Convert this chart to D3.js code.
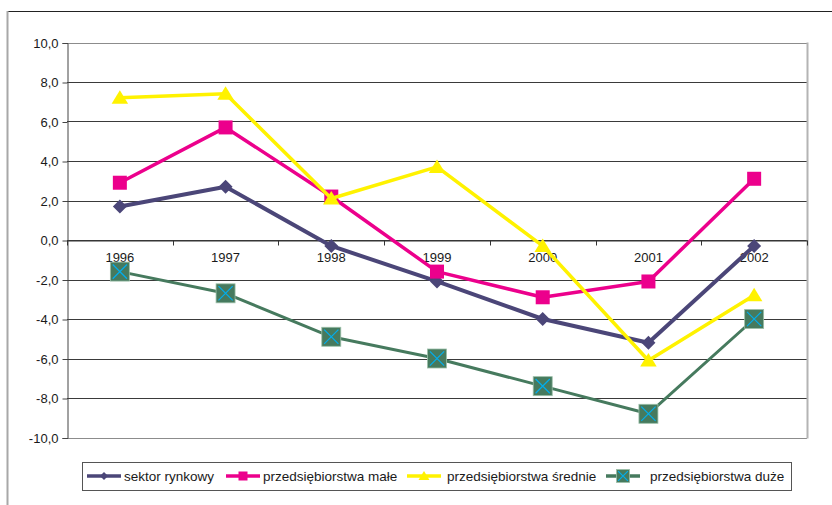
<!DOCTYPE html>
<html>
<head>
<meta charset="utf-8">
<script src="https://cdn.jsdelivr.net/npm/d3@7"></script>
<style>
  body { margin: 0; background: #fff; }
  svg text { font-family: "Liberation Sans", Arial, sans-serif; fill: #1a1a1a; }
</style>
</head>
<body>
<div id="chart"></div>
<script>
// data
var years = ["1996", "1997", "1998", "1999", "2000", "2001", "2002"];
var sektorRynkowy = [1.7, 2.7, -0.3, -2.1, -4.0, -5.2, -0.3];
var przedsMale = [2.9, 5.7, 2.2, -1.6, -2.9, -2.1, 3.1];
var przedsSrednie = [7.2, 7.4, 2.1, 3.7, -0.3, -6.1, -2.8];
var przedsDuze = [-1.6, -2.7, -4.9, -6.0, -7.4, -8.8, -4.0];
var yTicks = [10, 8, 6, 4, 2, 0, -2, -4, -6, -8, -10];

var series = [
  { name: "sektor rynkowy", values: sektorRynkowy, color: "#4b4678", marker: "diamond", width: 4, lx: 87 },
  { name: "przedsiębiorstwa małe", values: przedsMale, color: "#ec008c", marker: "square", width: 3.5, lx: 226 },
  { name: "przedsiębiorstwa średnie", values: przedsSrednie, color: "#fff200", marker: "triangle", width: 3.5, lx: 407 },
  { name: "przedsiębiorstwa duże", values: przedsDuze, color: "#467a5e", marker: "xsquare", width: 3, lx: 606 }
];

var width = 832,
    height = 505,
    plotLeft = 67, plotRight = 807, plotTop = 42.5, plotBottom = 437.5;

var svg = d3.select("#chart").append("svg")
    .attr("width", width)
    .attr("height", height);

// outer frame
svg.append("line").attr("x1", 7).attr("x2", width).attr("y1", 11.5).attr("y2", 11.5)
    .attr("stroke", "#222").attr("stroke-width", 1);
svg.append("line").attr("x1", 7.5).attr("x2", 7.5).attr("y1", 11).attr("y2", height)
    .attr("stroke", "#a8a8a8").attr("stroke-width", 2);

var x = d3.scaleBand().domain(years).range([plotLeft, plotRight]).padding(0);
var y = d3.scaleLinear().domain([-10, 10]).range([plotBottom, plotTop]);

function cx(i) { return x(years[i]) + x.bandwidth() / 2; }

// grid
svg.append("g").selectAll("line").data(yTicks).enter().append("line")
    .attr("x1", plotLeft).attr("x2", plotRight)
    .attr("y1", function(d) { return Math.round(y(d)) + 0.5; })
    .attr("y2", function(d) { return Math.round(y(d)) + 0.5; })
    .attr("stroke", function(d) { return (d === 10 || d === -10) ? "#8c8c8c" : "#3a3a3a"; })
    .attr("stroke-width", 1);

// right border of plot area
svg.append("line").attr("x1", plotRight + 0.5).attr("x2", plotRight + 0.5).attr("y1", plotTop).attr("y2", plotBottom + 1)
    .attr("stroke", "#b4b4b4").attr("stroke-width", 2);

// y axis
var yAxis = d3.axisLeft(y).tickValues(yTicks).tickSize(5).tickPadding(4)
    .tickFormat(function(d) { return d3.format(".1f")(d).replace(".", ",").replace("−", "-"); });
var gy = svg.append("g").attr("transform", "translate(" + (plotLeft + 0.5) + ",0.5)").call(yAxis);
gy.select(".domain").attr("stroke", "#444");
gy.selectAll(".tick line").attr("stroke", "#444");
gy.selectAll("text").attr("font-size", 13).attr("font-family", "Liberation Sans, Arial, sans-serif").attr("fill", "#1a1a1a");

// x axis on zero line
var xAxis = d3.axisBottom(x).tickSize(0).tickPadding(12);
var gx = svg.append("g").attr("transform", "translate(0," + (Math.round(y(0)) + 0.5) + ")").call(xAxis);
gx.select(".domain").attr("stroke", "#333");
gx.selectAll("text").attr("font-size", 13).attr("font-family", "Liberation Sans, Arial, sans-serif").attr("fill", "#1a1a1a");
gx.selectAll(".cat-tick").data(d3.range(years.length + 1)).enter().append("line")
    .attr("x1", function(d) { return Math.round(plotLeft + d * x.bandwidth()) + 0.5; })
    .attr("x2", function(d) { return Math.round(plotLeft + d * x.bandwidth()) + 0.5; })
    .attr("y1", 0).attr("y2", 5)
    .attr("stroke", "#333");

function drawMarker(g, type, color, px, py, s) {
    if (type === "diamond") {
        g.append("path")
            .attr("d", "M" + px + "," + (py - s) + "L" + (px + s) + "," + py + "L" + px + "," + (py + s) + "L" + (px - s) + "," + py + "Z")
            .attr("fill", color);
    } else if (type === "square") {
        g.append("rect").attr("x", px - s).attr("y", py - s).attr("width", 2 * s).attr("height", 2 * s)
            .attr("fill", color);
    } else if (type === "triangle") {
        g.append("path")
            .attr("d", "M" + px + "," + (py - s) + "L" + (px + s * 1.1) + "," + (py + s * 0.8) + "L" + (px - s * 1.1) + "," + (py + s * 0.8) + "Z")
            .attr("fill", color);
    } else {
        g.append("rect").attr("x", px - s).attr("y", py - s).attr("width", 2 * s).attr("height", 2 * s)
            .attr("fill", color).attr("stroke", "#9bbfa8").attr("stroke-width", 0.8);
        var k = s * 0.75;
        g.append("path")
            .attr("d", "M" + (px - k) + "," + (py - k) + "L" + (px + k) + "," + (py + k) + "M" + (px + k) + "," + (py - k) + "L" + (px - k) + "," + (py + k))
            .attr("stroke", "#00aeef").attr("stroke-width", 1.2).attr("fill", "none");
    }
}

var markerSize = { diamond: 7, square: 7, triangle: 7.5, xsquare: 9.5 };

var line = d3.line()
    .x(function(d, i) { return cx(i); })
    .y(function(d) { return y(d); });

series.forEach(function(s) {
    var g = svg.append("g");
    g.append("path")
        .attr("d", line(s.values))
        .attr("fill", "none")
        .attr("stroke", s.color)
        .attr("stroke-width", s.width)
        .attr("stroke-linejoin", "round");
    s.values.forEach(function(v, i) {
        drawMarker(g, s.marker, s.color, cx(i), y(v), markerSize[s.marker]);
    });
});

// legend
var legend = svg.append("g");
legend.append("rect")
    .attr("x", 82.5).attr("y", 462.5).attr("width", 709).attr("height", 28)
    .attr("fill", "#fff").attr("stroke", "#555").attr("stroke-width", 1);

var legendMarker = { diamond: 4, square: 4.5, triangle: 5, xsquare: 6.5 };

series.forEach(function(s) {
    var ly = 476;
    legend.append("line")
        .attr("x1", s.lx).attr("x2", s.lx + 34)
        .attr("y1", ly).attr("y2", ly)
        .attr("stroke", s.color).attr("stroke-width", 3.5);
    drawMarker(legend, s.marker, s.color, s.lx + 17, ly, legendMarker[s.marker]);
    legend.append("text")
        .attr("x", s.marker === "xsquare" ? s.lx + 44 : (s.marker === "triangle" ? s.lx + 40 : s.lx + 37))
        .attr("y", ly + 4.5)
        .attr("font-size", 13.5)
        .text(s.name);
});
</script>
</body>
</html>
